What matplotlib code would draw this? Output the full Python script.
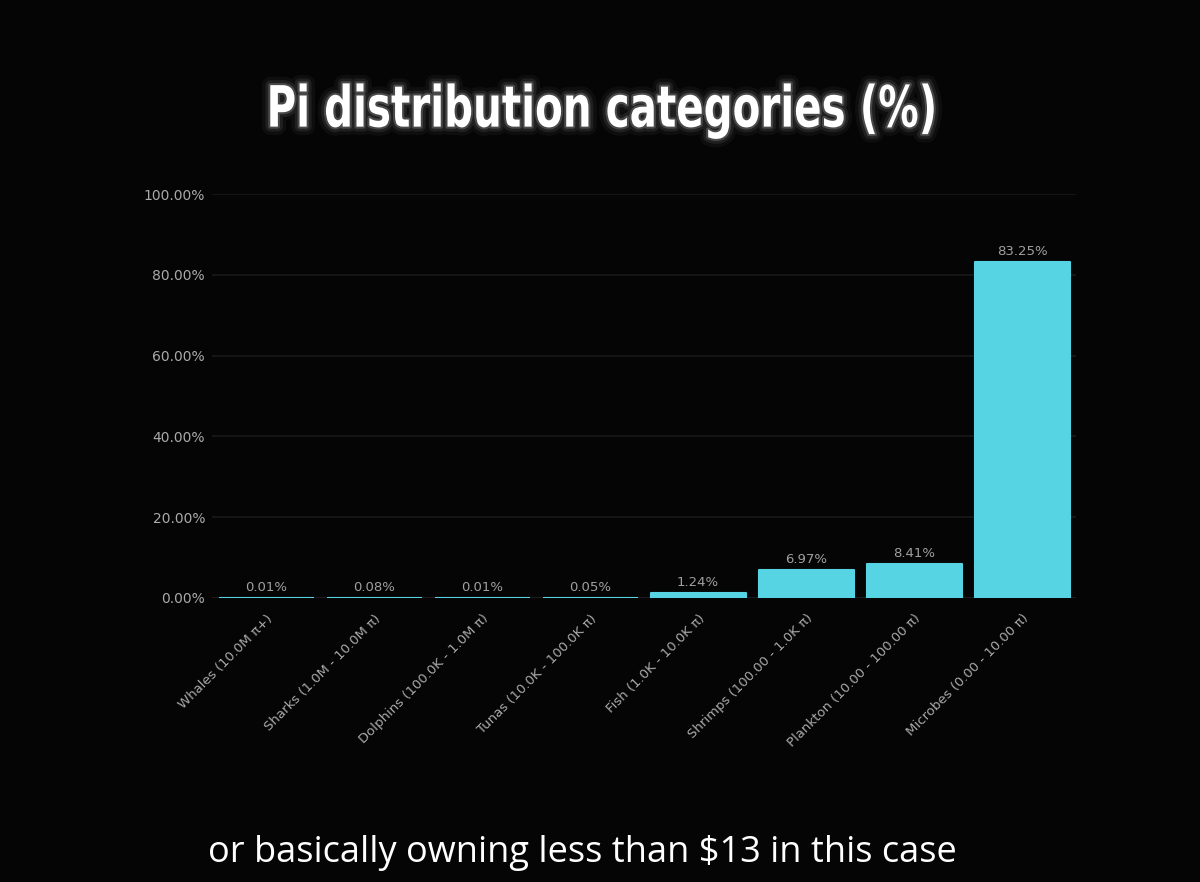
import matplotlib
matplotlib.use("Agg")
import matplotlib.pyplot as plt
import matplotlib.patheffects as pe
from matplotlib.transforms import Affine2D
from matplotlib.ticker import FuncFormatter, MultipleLocator

categories = [
    "Whales (10.0M \u03c0+)",
    "Sharks (1.0M - 10.0M \u03c0)",
    "Dolphins (100.0K - 1.0M \u03c0)",
    "Tunas (10.0K - 100.0K \u03c0)",
    "Fish (1.0K - 10.0K \u03c0)",
    "Shrimps (100.00 - 1.0K \u03c0)",
    "Plankton (10.00 - 100.00 \u03c0)",
    "Microbes (0.00 - 10.00 \u03c0)",
]
shares = [0.01, 0.08, 0.01, 0.05, 1.24, 6.97, 8.41, 83.25]

title = "Pi distribution categories (%)"
caption = "or basically owning less than $13 in this case"

bg = "#050505"
bar_color = "#57d4e4"
label_grey = "#aaaaaa"


class SqueezedGlow(pe.AbstractPathEffect):
    """Draws text squeezed horizontally around cx (no condensed font here),
    either as a soft stroke or as the normal fill."""

    def __init__(self, sx, cx, lw=None, alpha=1.0):
        super().__init__()
        self.sx, self.cx, self.lw, self.alpha = sx, cx, lw, alpha

    def draw_path(self, renderer, gc, tpath, affine, rgbFace=None):
        t = affine + Affine2D().translate(-self.cx, 0).scale(self.sx, 1).translate(self.cx, 0)
        gc0 = renderer.new_gc()
        gc0.copy_properties(gc)
        if self.lw:
            gc0.set_linewidth(self.lw)
            gc0.set_foreground((1, 1, 1, self.alpha), isRGBA=True)
            gc0.set_joinstyle("round")
            renderer.draw_path(gc0, tpath, t, None)
        else:
            renderer.draw_path(gc0, tpath, t, rgbFace)
        gc0.restore()


fig = plt.figure(figsize=(12, 8.82), dpi=100, facecolor=bg)
ax = fig.add_axes([0.1767, 0.322, 0.72, 0.458], facecolor=bg)

x = range(len(categories))
bars = ax.bar(x, shares, width=0.88, color=bar_color, edgecolor=bar_color,
              linewidth=1.5, joinstyle="round", zorder=3)

for b, v in zip(bars, shares):
    ax.text(b.get_x() + b.get_width() / 2, v + 1.0, f"{v:.2f}%",
            ha="center", va="bottom", color="#a0a0a0", fontsize=9.5,
            family="DejaVu Sans", zorder=4)

ax.set_xlim(-0.5, len(categories) - 0.5)
ax.set_ylim(0, 100)
ax.yaxis.set_major_locator(MultipleLocator(20))
ax.yaxis.set_major_formatter(FuncFormatter(lambda v, p: f"{v:.2f}%"))
ax.grid(axis="y", color="#191919", linewidth=1.2, zorder=0)
for s in ax.spines.values():
    s.set_visible(False)
ax.axhline(0, color="#1e1e1e", linewidth=1.2, zorder=2)

ax.set_xticks(list(x))
ax.set_xticklabels(categories, rotation=45, ha="right", rotation_mode="anchor",
                   color=label_grey, fontsize=9.5, family="DejaVu Sans")
ax.tick_params(axis="x", length=0, pad=10)
ax.tick_params(axis="y", length=0, pad=5, labelcolor=label_grey, labelsize=10)
for lbl in ax.get_yticklabels():
    lbl.set_family("DejaVu Sans")

title_x = 0.502
cx = title_x * fig.get_figwidth() * fig.dpi
sx = 0.71
fig.text(title_x, 0.874, title, ha="center", va="center", color="white",
         fontsize=41, fontweight="bold", family="DejaVu Sans",
         path_effects=[SqueezedGlow(sx, cx, lw=12, alpha=0.04),
                       SqueezedGlow(sx, cx, lw=7, alpha=0.08),
                       SqueezedGlow(sx, cx, lw=3, alpha=0.18),
                       SqueezedGlow(sx, cx)])

fig.text(0.485, 0.033, caption, ha="center", va="center", color="white",
         fontsize=26, family="Open Sans")

fig.savefig("out.png", dpi=100, facecolor=bg)
